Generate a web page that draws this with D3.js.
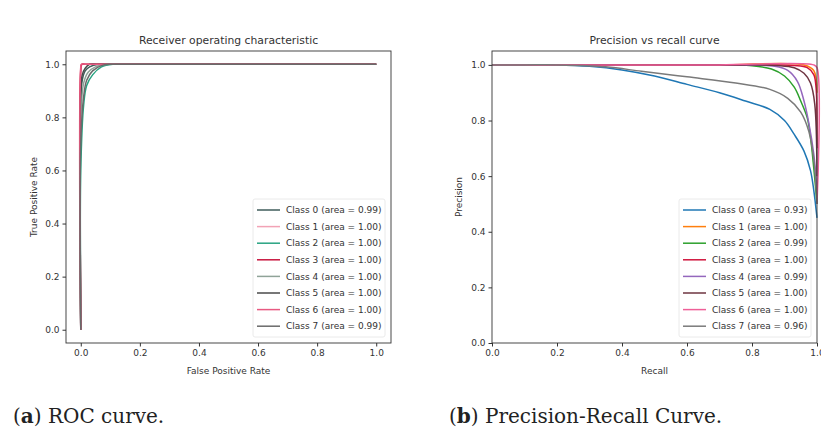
<!DOCTYPE html>
<html lang="en">
<head>
<meta charset="utf-8">
<title>ROC and Precision-Recall curves</title>
<script src="https://cdnjs.cloudflare.com/ajax/libs/d3/7.8.5/d3.min.js"></script>
<style>
    body { margin: 0; background: #fff; }
    svg text { fill: #333; }
    .axis text { font-family: "DejaVu Sans", sans-serif; font-size: 9px; fill: #333; }
    .axis path, .axis line { stroke: #333; }
</style>
</head>
<body>
<script>

// class names and legend areas
var classes = ["Class 0", "Class 1", "Class 2", "Class 3", "Class 4", "Class 5", "Class 6", "Class 7"];
var rocArea = ["0.99", "1.00", "1.00", "1.00", "1.00", "1.00", "1.00", "0.99"];
var prArea = ["0.93", "1.00", "0.99", "1.00", "0.99", "1.00", "1.00", "0.96"];
var rocColors = ["#3f5d5b", "#f2a3b6", "#27a381", "#c8163f", "#8fa398", "#4a4a4a", "#e85a82", "#6a6a6a"];
var prColors = ["#1f77b4", "#ff7f0e", "#2ca02c", "#d0143c", "#9467bd", "#6e3441", "#ef5f98", "#7a7a7a"];
var tickVals = [0, 0.2, 0.4, 0.6, 0.8, 1.0];

// ROC points: [fpr, tpr]
var roc0 = [[0, 0], [0, 0.85], [0.005, 0.94], [0.015, 0.975], [0.03, 0.99], [0.06, 1], [0.1, 1], [0.3, 1], [1, 1]];
var roc1 = [[0, 0], [0, 0.97], [0.005, 1], [0.02, 1], [0.2, 1], [1, 1]];
var roc2 = [[0, 0], [0, 0.6], [0.01, 0.85], [0.02, 0.92], [0.04, 0.96], [0.07, 0.99], [0.11, 1], [0.16, 1], [0.4, 1], [1, 1]];
var roc3 = [[0, 0], [0, 0.98], [0.003, 1], [0.015, 1], [0.2, 1], [1, 1]];
var roc4 = [[0, 0], [0, 0.8], [0.01, 0.93], [0.025, 0.97], [0.05, 0.99], [0.09, 1], [0.14, 1], [0.4, 1], [1, 1]];
var roc5 = [[0, 0], [0, 0.9], [0.005, 0.96], [0.015, 0.985], [0.03, 1], [0.06, 1], [0.3, 1], [1, 1]];
var roc6 = [[0, 0], [0, 0.99], [0.002, 1], [0.015, 1], [0.2, 1], [1, 1]];
var roc7 = [[0, 0], [0, 0.7], [0.01, 0.88], [0.02, 0.94], [0.04, 0.975], [0.07, 0.995], [0.1, 1], [0.15, 1], [0.4, 1], [1, 1]];

// precision-recall points: [recall, precision]
var pr0 = [[0, 1], [0.1, 1], [0.2, 1], [0.3, 0.995], [0.4, 0.982], [0.5, 0.96], [0.6, 0.93], [0.7, 0.9], [0.78, 0.87], [0.855, 0.84], [0.9, 0.8], [0.93, 0.75], [0.96, 0.69], [0.98, 0.62], [0.99, 0.55], [1, 0.45]];
var pr1 = [[0, 1], [0.3, 1], [0.7, 1], [0.96, 1], [0.99, 0.98], [1, 0.9]];
var pr2 = [[0, 1], [0.3, 1], [0.6, 1], [0.8, 0.997], [0.86, 0.985], [0.9, 0.96], [0.93, 0.92], [0.95, 0.87], [0.97, 0.81], [0.98, 0.74], [0.99, 0.63], [1, 0.5]];
var pr3 = [[0, 1], [0.3, 1], [0.7, 1], [0.93, 0.998], [0.97, 0.99], [0.99, 0.965], [0.997, 0.92], [1, 0.7]];
var pr4 = [[0, 1], [0.3, 1], [0.7, 1], [0.87, 0.995], [0.91, 0.98], [0.94, 0.94], [0.96, 0.87], [0.975, 0.79], [0.99, 0.68], [1, 0.55]];
var pr5 = [[0, 1], [0.3, 1], [0.7, 1], [0.88, 0.998], [0.93, 0.99], [0.96, 0.97], [0.98, 0.935], [0.993, 0.86], [1, 0.6]];
var pr6 = [[0, 1], [0.3, 1], [0.7, 1], [0.99, 1], [1, 0.99], [1, 0.5]];
var pr7 = [[0, 1], [0.1, 1], [0.2, 1], [0.35, 0.993], [0.46, 0.977], [0.6, 0.957], [0.75, 0.935], [0.855, 0.912], [0.91, 0.88], [0.95, 0.83], [0.975, 0.76], [0.99, 0.66], [1, 0.5]];

var rocData = [roc0, roc1, roc2, roc3, roc4, roc5, roc6, roc7];
var prData = [pr0, pr1, pr2, pr3, pr4, pr5, pr6, pr7];

var svg = d3.select("body").append("svg")
    .attr("width", 821)
    .attr("height", 430);

function panel(opt) {
    var x = d3.scaleLinear().domain(opt.xdom).range([opt.left, opt.right]);
    var y = d3.scaleLinear().domain(opt.ydom).range([opt.bottom, opt.top]);
    var g = svg.append("g");

    var line = d3.line()
        .x(function(d) { return x(d[0]); })
        .y(function(d) { return y(d[1]); })
        .curve(d3.curveCatmullRom.alpha(0.5));

    g.selectAll(".curve")
        .data(opt.series)
        .enter().append("path")
        .attr("class", "curve")
        .attr("d", line)
        .attr("fill", "none")
        .attr("stroke", function(d, i) { return opt.colors[i]; })
        .attr("stroke-width", 1.5);

    // frame
    g.append("rect")
        .attr("x", opt.left).attr("y", opt.top)
        .attr("width", opt.right - opt.left).attr("height", opt.bottom - opt.top)
        .attr("fill", "none").attr("stroke", "#333").attr("stroke-width", 0.9);

    g.append("g").attr("class", "axis")
        .attr("transform", "translate(0," + opt.bottom + ")")
        .call(d3.axisBottom(x).tickValues(tickVals).tickFormat(d3.format(".1f")).tickSize(3.5).tickPadding(3))
        .call(function(a) { a.select(".domain").remove(); });

    g.append("g").attr("class", "axis")
        .attr("transform", "translate(" + opt.left + ",0)")
        .call(d3.axisLeft(y).tickValues(tickVals).tickFormat(d3.format(".1f")).tickSize(3.5).tickPadding(3))
        .call(function(a) { a.select(".domain").remove(); });

    var cx = (opt.left + opt.right) / 2;
    var cy = (opt.top + opt.bottom) / 2;

    g.append("text")
        .attr("x", cx).attr("y", opt.top - 7)
        .attr("text-anchor", "middle")
        .style("font-family", "DejaVu Sans").style("font-size", "10.8px")
        .text(opt.title);

    g.append("text")
        .attr("x", cx).attr("y", opt.bottom + 31)
        .attr("text-anchor", "middle")
        .style("font-family", "DejaVu Sans").style("font-size", "9px")
        .text(opt.xlabel);

    g.append("text")
        .attr("transform", "translate(" + opt.ylabelX + "," + cy + ") rotate(-90)")
        .attr("text-anchor", "middle")
        .style("font-family", "DejaVu Sans").style("font-size", "9px")
        .text(opt.ylabel);

    // legend
    var lg = g.append("g");
    lg.append("rect")
        .attr("x", opt.legX - 4).attr("y", opt.legY - 11)
        .attr("width", 132).attr("height", 138)
        .attr("rx", 2)
        .attr("fill", "#fff").attr("fill-opacity", 0.8)
        .attr("stroke", "#e4e4e4").attr("stroke-width", 0.8);

    var row = lg.selectAll(".row")
        .data(classes)
        .enter().append("g")
        .attr("class", "row")
        .attr("transform", function(d, i) { return "translate(" + opt.legX + "," + (opt.legY + i * 16.6) + ")"; });

    row.append("line")
        .attr("x1", 0).attr("x2", 23)
        .attr("stroke", function(d, i) { return opt.colors[i]; })
        .attr("stroke-width", 1.5);

    row.append("text")
        .attr("x", 29).attr("dy", "0.35em")
        .style("font-family", "DejaVu Sans").style("font-size", "9px")
        .text(function(d, i) { return d + " (area = " + opt.areas[i] + ")"; });
}

panel({
    left: 66, right: 391, top: 51, bottom: 343,
    xdom: [-0.05, 1.05], ydom: [-0.05, 1.05],
    series: rocData, colors: rocColors, areas: rocArea,
    title: "Receiver operating characteristic",
    xlabel: "False Positive Rate", ylabel: "True Positive Rate", ylabelX: 37,
    legX: 257, legY: 210
});

panel({
    left: 492, right: 817, top: 51, bottom: 343,
    xdom: [0, 1], ydom: [0, 1.05],
    series: prData, colors: prColors, areas: prArea,
    title: "Precision vs recall curve",
    xlabel: "Recall", ylabel: "Precision", ylabelX: 462,
    legX: 683, legY: 210
});

// captions under the panels
var caps = [["a", " ROC curve.", 13], ["b", " Precision-Recall Curve.", 449]];
caps.forEach(function(c) {
    var t = svg.append("text")
        .attr("x", c[2]).attr("y", 423)
        .style("font-family", "DejaVu Serif").style("font-size", "20px")
        .style("fill", "#222");
    t.append("tspan").text("(");
    t.append("tspan").style("font-weight", "bold").text(c[0]);
    t.append("tspan").text(")" + c[1]);
});

</script>
</body>
</html>
